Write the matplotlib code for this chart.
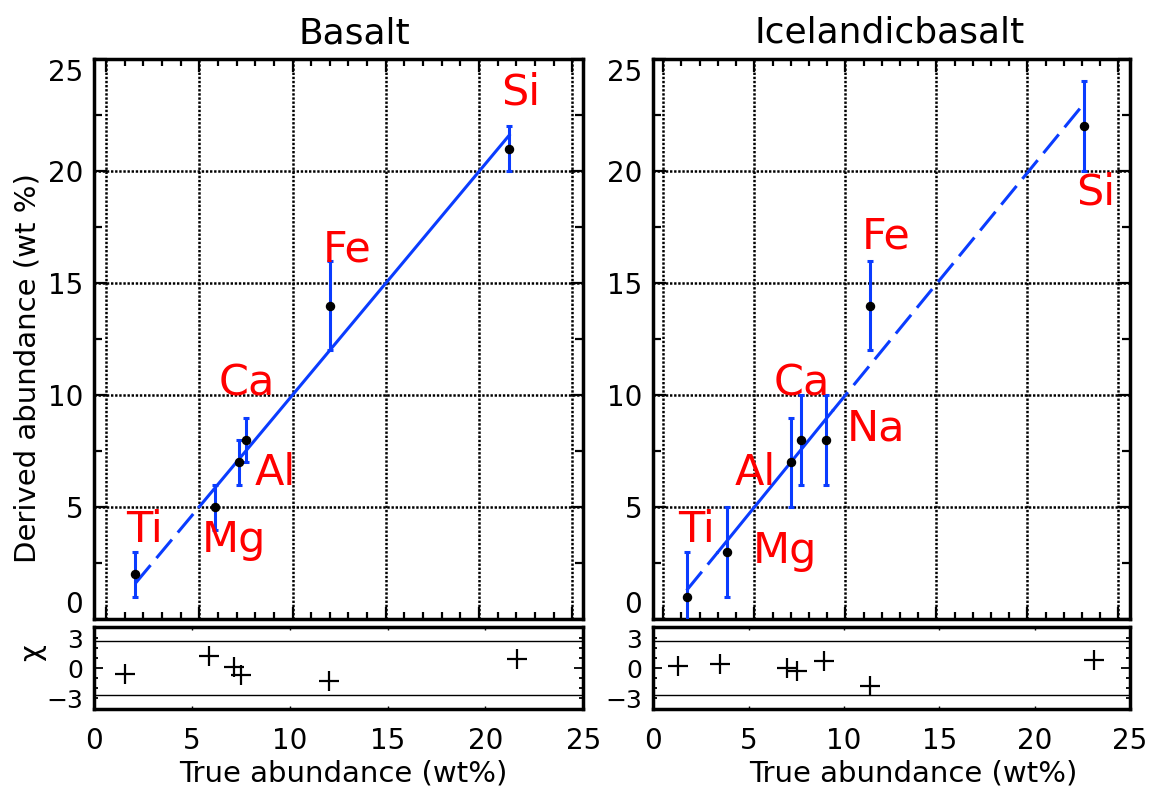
import matplotlib
matplotlib.use("Agg")
import matplotlib.pyplot as plt
from matplotlib.ticker import MultipleLocator, FixedLocator

# --- Basalt ---
bas_elem = ["Ti", "Mg", "Al", "Ca", "Fe", "Si"]
bas_true = [1.56, 5.85, 7.13, 7.50, 12.0, 21.62]
bas_derived = [2, 5, 7, 8, 14, 21]
bas_err = [1, 1, 1, 1, 2, 1]
bas_chi = [-0.57, 1.2, 0.13, -0.7, -1.34, 0.9]
bas_fit_x = [1.56, 5.0, 21.62]
bas_fit_y = [1.59, 5.02, 21.6]
bas_fit_style = ["dash", "solid"]
bas_lab_x = [1.08, 5.11, 7.96, 6.03, 11.6, 21.19]
bas_lab_y = [3.45, 2.99, 5.98, 10.0, 15.95, 22.95]

# --- Icelandic basalt ---
ice_elem = ["Ti", "Mg", "Al", "Ca", "Na", "Fe", "Si"]
ice_true = [1.28, 3.48, 7.02, 7.55, 8.93, 11.34, 23.1]
ice_derived = [1, 3, 7, 8, 8, 14, 22]
ice_err = [2, 2, 2, 2, 2, 2, 2]
ice_chi = [0.2, 0.37, 0.03, -0.27, 0.73, -1.77, 0.83]
ice_fit_x = [1.28, 3.0, 9.3, 23.1]
ice_fit_y = [1.29, 3.0, 9.3, 23.0]
ice_fit_style = ["dash", "solid", "dash"]
ice_lab_x = [0.82, 4.91, 3.94, 6.04, 10.07, 10.92, 22.66]
ice_lab_y = [3.45, 2.49, 5.98, 10.0, 7.99, 16.55, 18.53]

main_yticks = [0, 5, 10, 15, 20, 25]
chi_yticks = [-3, 0, 3]
chi_minor = [-2, -1, 1, 2]
chi_limit = 2.7

BLUE = "#0a3cff"
W, H = 1150, 790


def fx(px):
    return px / W


def fy(py):
    return 1 - py / H


def draw_panel(ax, rax, xlim, x, y, err, chi, fit_x, fit_y, fit_style,
               elem, lab_x, lab_y):
    # main plot
    ax.set_xlim(xlim)
    ax.set_ylim(0, 25)
    ax.xaxis.set_major_locator(MultipleLocator(5))
    ax.xaxis.set_minor_locator(MultipleLocator(1))
    ax.yaxis.set_major_locator(FixedLocator(main_yticks))
    ax.yaxis.set_minor_locator(MultipleLocator(2.5))
    ax.grid(True, which="major", color="k", linestyle=(0, (0.95, 0.7)), lw=1.8)
    ax.set_axisbelow(True)

    ax.errorbar(x, y, yerr=err, fmt="none", ecolor=BLUE, elinewidth=2.2,
                capsize=2, capthick=2.2, zorder=3)
    for i, st in enumerate(fit_style):
        ls = (0, (7.9, 3)) if st == "dash" else "-"
        ax.plot(fit_x[i:i + 2], fit_y[i:i + 2], color=BLUE, lw=2.2, ls=ls,
                zorder=4)
    ax.plot(x, y, "o", color="k", ms=5.8, zorder=5)
    for el, lx, ly in zip(elem, lab_x, lab_y):
        ax.text(lx, ly, el, color="red", fontsize=31, ha="left", va="baseline",
                zorder=6)

    ax.tick_params(which="both", direction="in", top=True, right=True, width=1.6)
    ax.tick_params(axis="x", which="major", length=9, labelbottom=False)
    ax.tick_params(axis="x", which="minor", length=4.7)
    ax.tick_params(axis="y", which="major", length=9, labelsize=20, pad=8)
    ax.tick_params(axis="y", which="minor", length=5.8)
    for s in ax.spines.values():
        s.set_linewidth(2.5)
    yt = ax.yaxis.get_major_ticks(len(main_yticks))
    yt[0].label1.set_va("bottom")
    yt[-1].label1.set_va("top")

    # residual plot
    rax.set_xlim(0, 25)
    rax.set_ylim(-4.13, 4.13)
    rax.axhline(chi_limit, color="k", lw=1)
    rax.axhline(-chi_limit, color="k", lw=1)
    rax.plot(x, chi, "+", color="k", ms=15, mew=1.6)
    rax.xaxis.set_major_locator(MultipleLocator(5))
    rax.yaxis.set_major_locator(FixedLocator(chi_yticks))
    rax.yaxis.set_minor_locator(FixedLocator(chi_minor))
    rax.tick_params(axis="x", direction="in", top=True, length=2.5, width=1,
                    labelsize=20, pad=13)
    rax.tick_params(axis="y", which="both", direction="in", left=True,
                    right=True, length=3.1, width=1.3, labelsize=18, pad=8)
    for s in rax.spines.values():
        s.set_linewidth(2.5)
    rt = rax.yaxis.get_major_ticks(len(chi_yticks))
    rt[1].tick1line.set_markersize(6.7)
    rt[1].tick2line.set_markersize(6.7)


fig = plt.figure(figsize=(11.5, 7.9), dpi=100)

main_bottom = fy(619.3)
main_h = (619.3 - 59) / H
res_bottom = fy(709.3)
res_h = (709.3 - 626.7) / H

axL = fig.add_axes([fx(94.3), main_bottom, (583.3 - 94.3) / W, main_h])
rL = fig.add_axes([fx(94.3), res_bottom, (583.3 - 94.3) / W, res_h])
axR = fig.add_axes([fx(653.3), main_bottom, (1130 - 653.3) / W, main_h])
rR = fig.add_axes([fx(653.3), res_bottom, (1130 - 653.3) / W, res_h])

draw_panel(axL, rL, (-0.627, 25.59), bas_true, bas_derived, bas_err, bas_chi,
           bas_fit_x, bas_fit_y, bas_fit_style, bas_elem, bas_lab_x, bas_lab_y)
draw_panel(axR, rR, (-0.549, 25.64), ice_true, ice_derived, ice_err, ice_chi,
           ice_fit_x, ice_fit_y, ice_fit_style, ice_elem, ice_lab_x, ice_lab_y)

fig.text(fx(354), fy(43.3), "Basalt", ha="center", va="baseline", fontsize=26)
fig.text(fx(889.4), fy(42.7), "Icelandicbasalt", ha="center", va="baseline",
         fontsize=26)
fig.text(fx(343), fy(781.7), "True abundance (wt%)", ha="center",
         va="baseline", fontsize=21)
fig.text(fx(913.8), fy(781.7), "True abundance (wt%)", ha="center",
         va="baseline", fontsize=21)
fig.text(fx(27.7), fy(368), "Derived abundance (wt %)", rotation=90,
         ha="center", va="center", fontsize=21)
fig.text(fx(32), fy(653), "χ", rotation=90, ha="center", va="center",
         fontsize=21)

fig.savefig("out.png", dpi=100, facecolor="white")
